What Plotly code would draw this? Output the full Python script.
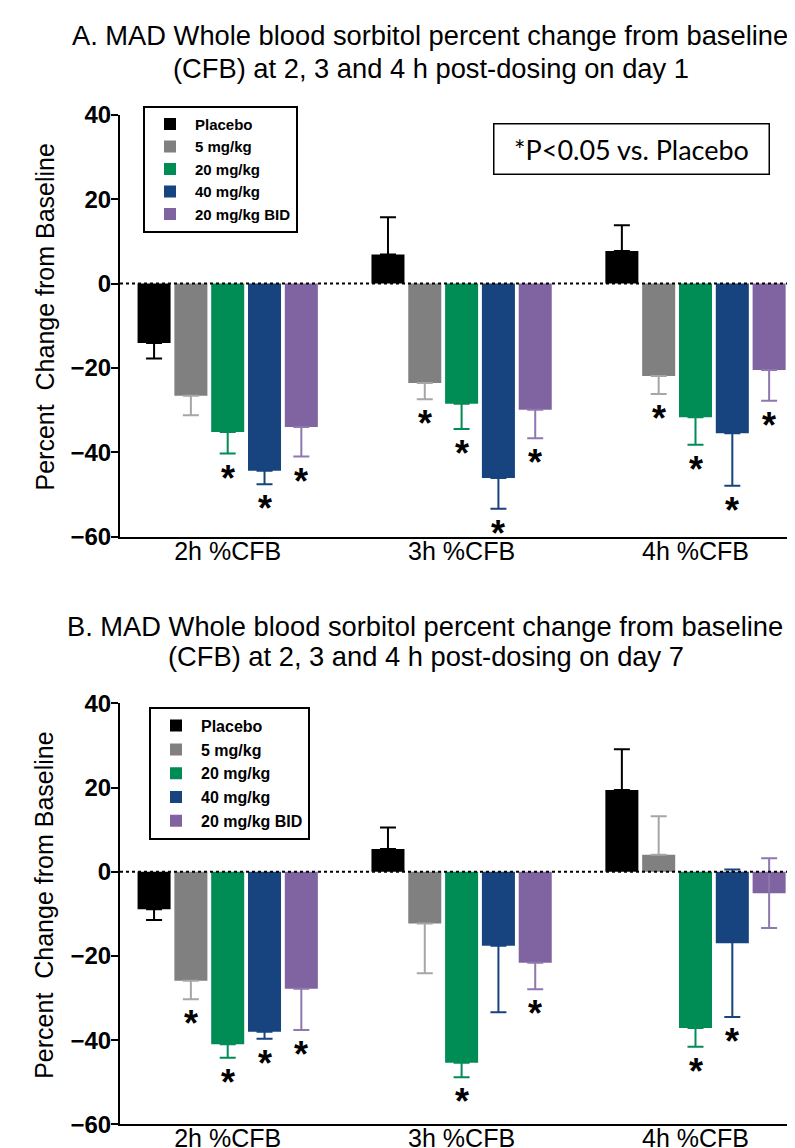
import plotly.graph_objects as go

W, H = 795, 1148
OFF = 8  # default page body margin of the written html

categories = ["2h %CFB", "3h %CFB", "4h %CFB"]
series = ["Placebo", "5 mg/kg", "20 mg/kg", "40 mg/kg", "20 mg/kg BID"]
bar_colors = ["#000000", "#808080", "#008C55", "#17437E", "#8064A2"]
err_colors = ["#000000", "#A6A6A6", "#008C55", "#17437E", "#8F77B0"]

# ---------------- Panel A: day 1 (mean % CFB) ----------------
a_placebo = [-14.1, 6.9, 7.7]
a_5mg = [-26.6, -23.6, -21.9]
a_20mg = [-35.2, -28.5, -31.7]
a_40mg = [-44.4, -46.1, -35.5]
a_20bid = [-34.0, -29.9, -20.5]
# error (SEM)
a_placebo_err = [3.7, 8.8, 6.1]
a_5mg_err = [4.6, 3.8, 4.3]
a_20mg_err = [5.1, 6.0, 6.5]
a_40mg_err = [3.2, 7.3, 12.4]
a_20bid_err = [7.0, 6.8, 7.3]
# significance vs placebo (1 = *)
a_placebo_sig = [0, 0, 0]
a_5mg_sig = [0, 1, 1]
a_20mg_sig = [1, 1, 1]
a_40mg_sig = [1, 1, 1]
a_20bid_sig = [1, 1, 1]
# error bar drawn on both sides
a_placebo_two = [0, 0, 0]
a_5mg_two = [0, 0, 0]
a_20mg_two = [0, 0, 0]
a_40mg_two = [0, 0, 0]
a_20bid_two = [0, 0, 0]

# ---------------- Panel B: day 7 ----------------
b_placebo = [-8.9, 5.4, 19.4]
b_5mg = [-25.9, -12.3, 4.0]
b_20mg = [-41.0, -45.4, -37.1]
b_40mg = [-38.0, -17.6, -17.0]
b_20bid = [-27.8, -21.6, -5.1]
b_placebo_err = [2.6, 5.1, 9.7]
b_5mg_err = [4.4, 11.8, 9.2]
b_20mg_err = [3.2, 3.4, 4.5]
b_40mg_err = [1.7, 15.8, 17.5]
b_20bid_err = [9.8, 6.3, 8.3]
b_placebo_sig = [0, 0, 0]
b_5mg_sig = [1, 0, 0]
b_20mg_sig = [1, 1, 1]
b_40mg_sig = [1, 0, 1]
b_20bid_sig = [1, 1, 0]
b_placebo_two = [0, 0, 0]
b_5mg_two = [0, 0, 0]
b_20mg_two = [0, 0, 0]
b_40mg_two = [0, 0, 1]
b_20bid_two = [0, 0, 1]

panels = [
    dict(vals=[a_placebo, a_5mg, a_20mg, a_40mg, a_20bid],
         errs=[a_placebo_err, a_5mg_err, a_20mg_err, a_40mg_err, a_20bid_err],
         sigs=[a_placebo_sig, a_5mg_sig, a_20mg_sig, a_40mg_sig, a_20bid_sig],
         twos=[a_placebo_two, a_5mg_two, a_20mg_two, a_40mg_two, a_20bid_two],
         xa="x", ya="y", legend="legend"),
    dict(vals=[b_placebo, b_5mg, b_20mg, b_40mg, b_20bid],
         errs=[b_placebo_err, b_5mg_err, b_20mg_err, b_40mg_err, b_20bid_err],
         sigs=[b_placebo_sig, b_5mg_sig, b_20mg_sig, b_40mg_sig, b_20bid_sig],
         twos=[b_placebo_two, b_5mg_two, b_20mg_two, b_40mg_two, b_20bid_two],
         xa="x2", ya="y2", legend="legend2"),
]

FONT = "Liberation Sans, Arial, sans-serif"
BARGAP = 0.213
BARGROUPGAP = 0.103
SLOT = (1 - BARGAP) / len(series)


def px_x(p):
    return (p - OFF) / W


def px_y(p):
    return 1 - (p - OFF) / H


fig = go.Figure()
annotations = []

for pi, pnl in enumerate(panels):
    for k, name in enumerate(series):
        vals = pnl["vals"][k]
        errs = pnl["errs"][k]
        twos = pnl["twos"][k]
        plus = [e if (v >= 0 or t) else 0 for v, e, t in zip(vals, errs, twos)]
        minus = [e if (v < 0 or t) else 0 for v, e, t in zip(vals, errs, twos)]
        fig.add_trace(go.Bar(
            x=list(range(len(categories))), y=vals, name=name,
            marker=dict(color=bar_colors[k], line=dict(width=0)),
            error_y=dict(type="data", symmetric=False, array=plus, arrayminus=minus,
                         color=err_colors[k], thickness=2, width=8),
            xaxis=pnl["xa"], yaxis=pnl["ya"], legend=pnl["legend"],
        ))
        # significance stars below the error bar
        for ci, (v, e, s) in enumerate(zip(vals, errs, pnl["sigs"][k])):
            if s:
                annotations.append(dict(
                    x=ci + (k - (len(series) - 1) / 2) * SLOT, y=v - e,
                    xref=pnl["xa"], yref=pnl["ya"], text="*", showarrow=False,
                    xanchor="center", yanchor="middle", yshift=-24.5,
                    font=dict(family=FONT, size=36, color="black", weight="bold"),
                ))

# titles
titles = [
    ("A. MAD Whole blood sorbitol percent change from baseline", 429.5, 35.5),
    ("(CFB) at 2, 3 and 4 h post-dosing on day 1", 431, 68.8),
    ("B. MAD Whole blood sorbitol percent change from baseline", 425, 626.3),
    ("(CFB) at 2, 3 and 4 h post-dosing on day 7", 425.8, 656.7),
]
for t, x, y in titles:
    annotations.append(dict(text=t, x=px_x(x), y=px_y(y), xref="paper", yref="paper",
                            xanchor="center", yanchor="middle", showarrow=False,
                            font=dict(family=FONT, size=27.3, color="black")))

# y axis titles
for y in [317.5, 905.8]:
    annotations.append(dict(text="Percent\u00a0 Change from Baseline", x=px_x(44), y=px_y(y),
                            xref="paper", yref="paper", textangle=-90,
                            xanchor="center", yanchor="middle", showarrow=False,
                            font=dict(family=FONT, size=25, color="black")))

# p-value note box
annotations.append(dict(text="*P<0.05 vs. Placebo", x=px_x(631.3), y=px_y(149.2),
                        xref="paper", yref="paper", xanchor="center", yanchor="middle",
                        showarrow=False, width=272, height=47, borderpad=1,
                        bordercolor="black", borderwidth=1.5, bgcolor="white",
                        font=dict(family="Lato, Open Sans, sans-serif", size=27, color="black")))

xdom = [px_x(120), 1.0]
x_right_px = W + OFF
xrange = [(120 - 227.7) / 233.9, (x_right_px - 227.7) / 233.9]

xaxis_common = dict(domain=xdom, range=xrange, tickvals=list(range(len(categories))),
                    ticktext=categories, showline=True, linecolor="black", linewidth=2,
                    ticks="", ticklen=0, ticklabelstandoff=-9,
                    showgrid=False, zeroline=False, automargin=False,
                    tickfont=dict(family=FONT, size=25, color="black"))
yaxis_common = dict(range=[-60, 40], tickvals=[-60, -40, -20, 0, 20, 40], showline=True,
                    linecolor="black", linewidth=2, ticks="outside", ticklen=7, tickwidth=2,
                    tickcolor="black", showgrid=False, zeroline=False, automargin=False,
                    ticklabelstandoff=-5,
                    tickfont=dict(family=FONT, size=24, color="black", weight="bold"))

legend_common = dict(xanchor="left", yanchor="top", bordercolor="black", borderwidth=2,
                     bgcolor="white", itemwidth=40, tracegroupgap=0)

shapes = []
for xa, ya in [("x", "y"), ("x2", "y2")]:
    shapes.append(dict(type="line", xref=f"{xa} domain", yref=ya, x0=0, x1=1, y0=0, y1=0,
                       line=dict(color="black", width=2, dash="dot"), layer="above"))

fig.update_layout(
    width=W, height=H, margin=dict(l=0, r=0, t=0, b=0),
    paper_bgcolor="white", plot_bgcolor="white",
    barmode="group", bargap=BARGAP, bargroupgap=BARGROUPGAP,
    xaxis=dict(**xaxis_common, anchor="y"),
    yaxis=dict(**yaxis_common, domain=[px_y(536.7), px_y(114.7)], anchor="x"),
    xaxis2=dict(**xaxis_common, anchor="y2"),
    yaxis2=dict(**yaxis_common, domain=[px_y(1124.3), px_y(703.3)], anchor="x2"),
    legend=dict(**legend_common, x=px_x(143), y=px_y(105.7),
                font=dict(family=FONT, size=15, color="black", weight="bold")),
    legend2=dict(**legend_common, x=px_x(149), y=px_y(706.7),
                 font=dict(family=FONT, size=16, color="black", weight="bold")),
    annotations=annotations,
    shapes=shapes,
    showlegend=True,
)

fig.write_html("out.html")
